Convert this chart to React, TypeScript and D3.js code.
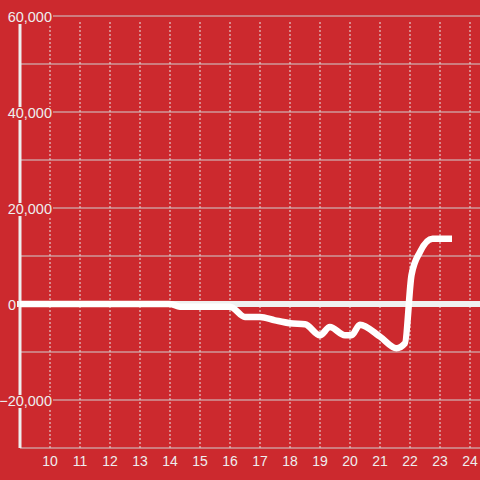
import React from "react";
import * as d3 from "d3";

const hours = [9, 10, 11, 12, 13, 14, 14.33, 15, 16, 16.5, 17, 17.5, 18, 18.5, 19, 19.33, 19.83, 20.05, 20.33, 21, 21.55, 21.83, 22.05, 22.33, 22.75, 23.4];
const values = [0, 0, 0, 0, 0, 0, -550, -550, -550, -2700, -2700, -3400, -4000, -4200, -6500, -4800, -6500, -6500, -4300, -6800, -9200, -8200, 6000, 10800, 13600, 13600];
const xTicks = [10, 11, 12, 13, 14, 15, 16, 17, 18, 19, 20, 21, 22, 23, 24];
const yGrid = [60000, 50000, 40000, 30000, 20000, 10000, -10000, -20000, -30000];
const yLabels = [60000, 40000, 20000, 0, -20000];

const W = 480;
const H = 480;
const BG = "#cc292e";

export default function App() {
  const x = d3.scaleLinear().domain([9, 24.3333]).range([20, 480]);
  const y = d3.scaleLinear().domain([-30000, 60000]).range([448, 16]);
  const fmt = d3.format(",");
  const data = hours.map((h, i) => [h, values[i]] as [number, number]);
  const line = d3
    .line<[number, number]>()
    .x((d) => x(d[0]))
    .y((d) => y(d[1]))
    .curve(d3.curveMonotoneX);

  return (
    <svg
      width={W}
      height={H}
      style={{ position: "absolute", left: 0, top: 0, display: "block" }}
      fontFamily="'Liberation Sans', Arial, sans-serif"
    >
      <rect x={0} y={0} width={W} height={H} fill={BG} />
      {xTicks.map((t) => (
        <line
          key={"vx" + t}
          x1={x(t)}
          x2={x(t)}
          y1={22}
          y2={448}
          stroke="#e8e8e8"
          strokeWidth={1}
          strokeDasharray="2,2"
        />
      ))}
      {yGrid.map((v) => (
        <line
          key={"hg" + v}
          x1={x(9)}
          x2={W}
          y1={y(v)}
          y2={y(v)}
          stroke="#d0d0d0"
          strokeWidth={1}
        />
      ))}
      <line x1={x(9)} x2={x(9)} y1={y(60000)} y2={y(-30000)} stroke="#eeeeee" strokeWidth={3} />
      <line x1={17} x2={W} y1={y(0)} y2={y(0)} stroke="#f0f0f0" strokeWidth={6} />
      {yLabels.map((v) => {
        const isZero = v === 0;
        const endX = isZero ? 16 : 52;
        const bx = isZero ? 6 : 0;
        return (
          <g key={"yl" + v}>
            <rect x={bx} y={y(v) - 5} width={endX + 1 - bx} height={13} fill={BG} />
            <text
              x={endX}
              y={y(v) + 6}
              textAnchor="end"
              fontSize={14.5}
              fill="#eeeeee"
            >
              {fmt(v)}
            </text>
          </g>
        );
      })}
      {xTicks.map((t) => (
        <text
          key={"xl" + t}
          x={x(t)}
          y={466}
          textAnchor="middle"
          fontSize={14}
          fill="#eeeeee"
        >
          {t}
        </text>
      ))}
      <path
        d={line(data) ?? ""}
        fill="none"
        stroke="#ffffff"
        strokeWidth={6.5}
        strokeLinejoin="round"
        strokeLinecap="butt"
      />
    </svg>
  );
}
